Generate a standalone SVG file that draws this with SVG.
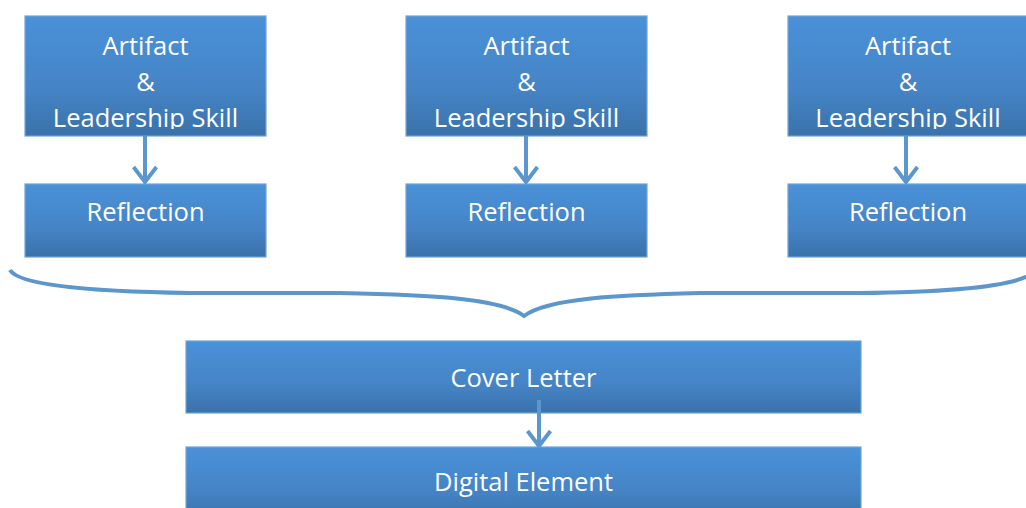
<svg xmlns="http://www.w3.org/2000/svg" width="1026" height="508" viewBox="0 0 1026 508">
<defs>
<linearGradient id="g" x1="0" y1="0" x2="0" y2="1">
<stop offset="0" stop-color="#4a91d8"/>
<stop offset="0.6" stop-color="#4584c6"/>
<stop offset="1" stop-color="#3a72aa"/>
</linearGradient>
<clipPath id="c1"><rect x="25" y="16" width="241" height="113"/></clipPath>
<clipPath id="c2"><rect x="406" y="16" width="241" height="113"/></clipPath>
<clipPath id="c3"><rect x="788" y="16" width="241" height="113"/></clipPath>
<marker id="ah" viewBox="0 0 18 26" markerWidth="18" markerHeight="26" refX="16" refY="13" orient="auto" markerUnits="userSpaceOnUse">
<path d="M1 1.5 L16 13 L1 24.5" fill="none" stroke="#5b96cc" stroke-width="4" stroke-linejoin="miter"/>
</marker>
</defs>
<style>
.box{fill:url(#g);stroke:#70a4d8;stroke-width:1.2}
.t{font-family:"Open Sans","Liberation Sans",sans-serif;font-size:25.5px;fill:#ffffff;text-anchor:middle}
.ln{fill:none;stroke:#5b96cc;stroke-width:4}
</style>
<g id="n1">
<rect class="box" x="25" y="16" width="241" height="120"/>
<g clip-path="url(#c1)">
<text class="t" x="145.5" y="55">Artifact</text>
<text class="t" x="145.5" y="91">&amp;</text>
<text class="t" x="145.5" y="127">Leadership Skill</text>
</g>
</g>
<g id="n2">
<rect class="box" x="406" y="16" width="241" height="120"/>
<g clip-path="url(#c2)">
<text class="t" x="526.5" y="55">Artifact</text>
<text class="t" x="526.5" y="91">&amp;</text>
<text class="t" x="526.5" y="127">Leadership Skill</text>
</g>
</g>
<g id="n3">
<rect class="box" x="788" y="16" width="241" height="120"/>
<g clip-path="url(#c3)">
<text class="t" x="908" y="55">Artifact</text>
<text class="t" x="908" y="91">&amp;</text>
<text class="t" x="908" y="127">Leadership Skill</text>
</g>
</g>
<g id="r1">
<rect class="box" x="25" y="184" width="241" height="73"/>
<text class="t" x="145.5" y="221">Reflection</text>
</g>
<g id="r2">
<rect class="box" x="406" y="184" width="241" height="73"/>
<text class="t" x="526.5" y="221">Reflection</text>
</g>
<g id="r3">
<rect class="box" x="788" y="184" width="241" height="73"/>
<text class="t" x="908" y="221">Reflection</text>
</g>
<g id="cover">
<rect class="box" x="186" y="341" width="675" height="72"/>
<text class="t" x="523.5" y="387">Cover Letter</text>
</g>
<g id="digital">
<rect class="box" x="186" y="447" width="675" height="72"/>
<text class="t" x="523.5" y="491">Digital Element</text>
</g>
<g id="connectors">
<line class="ln" x1="145" y1="136" x2="145" y2="182" marker-end="url(#ah)"/>
<line class="ln" x1="526" y1="136" x2="526" y2="182" marker-end="url(#ah)"/>
<line class="ln" x1="906" y1="136" x2="906" y2="182" marker-end="url(#ah)"/>
<line class="ln" x1="539" y1="400" x2="539" y2="446" marker-end="url(#ah)"/>
<path class="ln" stroke-width="3.5" d="M10 270 C20 288 120 292 190 293 L340 293 C430 295 500 298 524 316 C548 298 620 295 700 293 L860 293 C960 292 1010 285 1028 276"/>
</g>
</svg>
